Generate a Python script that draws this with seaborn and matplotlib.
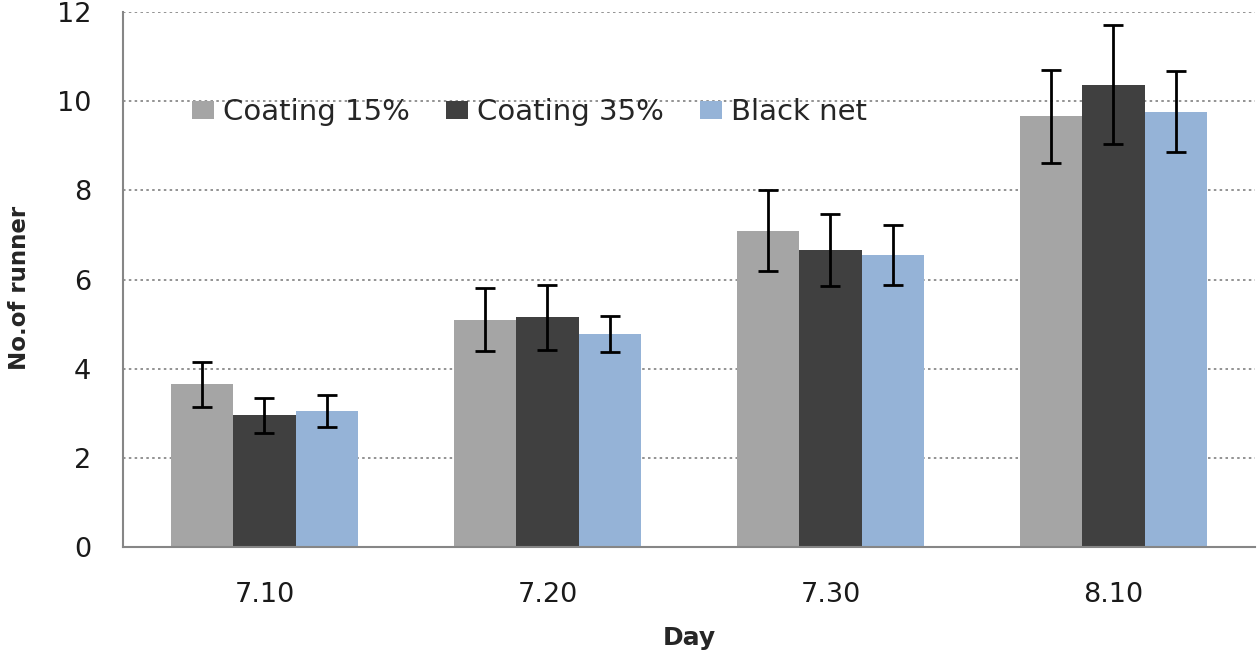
import matplotlib
matplotlib.use("Agg")
import matplotlib.pyplot as plt
import seaborn as sns
import pandas as pd
import numpy as np

days = ["7.10", "7.20", "7.30", "8.10"]
series = ["Coating 15%", "Coating 35%", "Black net"]
coating15 = [3.65, 5.10, 7.09, 9.66]
coating35 = [2.95, 5.15, 6.66, 10.37]
black_net = [3.06, 4.78, 6.55, 9.76]
err15 = [0.51, 0.70, 0.91, 1.05]
err35 = [0.40, 0.72, 0.81, 1.33]
errbn = [0.36, 0.40, 0.68, 0.91]
colors = ["#A5A5A5", "#404040", "#95B3D7"]

sns.set_style("white")
plt.rcParams['font.family'] = ['DejaVu Sans']

rows = []
for s, vals, errs in zip(series, [coating15, coating35, black_net], [err15, err35, errbn]):
    for d, v, e in zip(days, vals, errs):
        rows.append({"Day": d, "Series": s, "Value": v, "Err": e})
df = pd.DataFrame(rows)

fig = plt.figure(figsize=(12.6, 6.53), dpi=100)
ax = fig.add_axes([0.0976, 0.1623, 0.8984, 0.8193])

sns.barplot(data=df, x="Day", y="Value", hue="Series", order=days, hue_order=series,
            palette=colors, errorbar=None, width=0.66, saturation=1, ax=ax,
            edgecolor="none", linewidth=0)

# error bars at bar centers
for cont, s in zip(ax.containers, series):
    sub = df[df["Series"] == s].set_index("Day").loc[days]
    xs = [p.get_x() + p.get_width() / 2 for p in cont.patches]
    ax.errorbar(xs, sub["Value"].values, yerr=sub["Err"].values, fmt="none",
                ecolor="black", elinewidth=2.0, capsize=7, capthick=2.0, zorder=5)

ax.set_ylim(0, 12)
ax.set_xlim(-0.5, 3.5)
ax.set_yticks(np.arange(0, 13, 2))
ax.yaxis.grid(True, linestyle=(0, (1.5, 2.0)), color="#808080", linewidth=1.2)
ax.set_axisbelow(True)

for side in ["top", "right"]:
    ax.spines[side].set_visible(False)
for side in ["left", "bottom"]:
    ax.spines[side].set_color("#868686")
    ax.spines[side].set_linewidth(1.5)

# category boundary ticks on x axis, labels at centers
ax.set_xticks(np.arange(len(days)))
ax.set_xticklabels(days)
ax.tick_params(axis="x", which="major", length=0, pad=25, labelsize=19.5, colors="#1a1a1a")
ax.set_xticks(np.arange(-0.5, len(days), 1.0), minor=True)
ax.tick_params(axis="x", which="minor", length=7, width=1.2, color="#868686", direction="out")
ax.tick_params(axis="y", length=7, width=1.2, color="#868686", direction="out", labelsize=19.5,
               labelcolor="#1a1a1a", pad=16)

ax.set_xlabel("Day", fontsize=18, fontweight="bold", labelpad=13)
ax.set_ylabel("No.of runner", fontsize=16.5, fontweight="bold")
ax.yaxis.set_label_coords(-0.0815, 0.484)

ax.legend(loc="center left", bbox_to_anchor=(0.038, 0.813), ncol=3, frameon=False,
          fontsize=21, handlelength=0.75, handleheight=0.6, handletextpad=0.3,
          columnspacing=1.25)

fig.savefig("out.png", dpi=100, facecolor="white")
